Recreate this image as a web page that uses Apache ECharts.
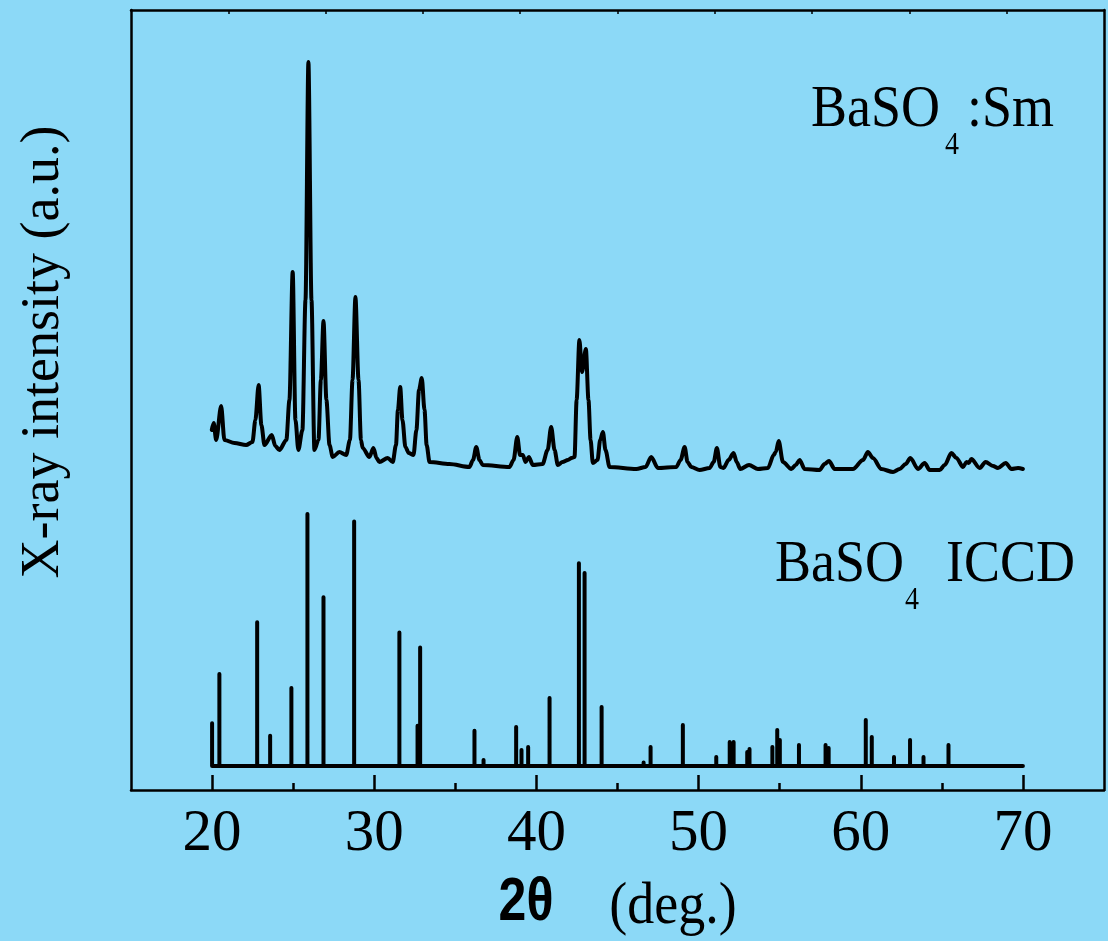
<!DOCTYPE html>
<html>
<head>
<meta charset="utf-8">
<title>BaSO4:Sm XRD</title>
<script src="https://cdn.jsdelivr.net/npm/echarts@6/dist/echarts.min.js"></script>
<style>
    html, body { margin: 0; padding: 0; background: #8cd9f7; }
    #chart { width: 1108px; height: 941px; }
</style>
</head>
<body>
<div id="chart"></div>
<script>
// measured pattern of BaSO4:Sm, [2theta (deg), intensity (a.u.)]
var smPattern = [
    [19.98, 360], [20.10, 367], [20.25, 350], [20.56, 384], [20.76, 350], [21.38, 347],
    [22.10, 345], [22.49, 348], [22.67, 370], [22.87, 405], [23.04, 365], [23.23, 345],
    [23.68, 355], [23.90, 344], [24.15, 340], [24.58, 350], [24.77, 390], [24.97, 518],
    [25.14, 370], [25.32, 340], [25.57, 360], [25.76, 490], [25.94, 728], [26.13, 490],
    [26.31, 340], [26.56, 350], [26.71, 410], [26.87, 469], [27.05, 390], [27.24, 345],
    [27.44, 333], [27.85, 338], [28.27, 335], [28.50, 350], [28.66, 410], [28.84, 493],
    [29.03, 410], [29.18, 350], [29.29, 342], [29.70, 333], [29.95, 342], [30.14, 332],
    [30.32, 328], [30.83, 332], [31.14, 328], [31.34, 345], [31.46, 380], [31.60, 403],
    [31.74, 370], [31.92, 343], [32.13, 337], [32.42, 335], [32.60, 360], [32.76, 400],
    [32.93, 412], [33.10, 380], [33.23, 345], [33.41, 328], [34.64, 326], [35.87, 323],
    [36.09, 330], [36.29, 343], [36.49, 330], [36.69, 325], [38.34, 323], [38.59, 330],
    [38.82, 353], [38.99, 335], [39.16, 335], [39.33, 328], [39.53, 333], [39.78, 325],
    [40.38, 326], [40.69, 340], [40.91, 363], [41.12, 340], [41.32, 325], [41.61, 328],
    [41.94, 330], [42.17, 332], [42.35, 333], [42.48, 390], [42.65, 450], [42.81, 418],
    [43.05, 441], [43.21, 390], [43.34, 350], [43.48, 327], [43.77, 330], [43.93, 350],
    [44.10, 358], [44.26, 340], [44.51, 323], [46.16, 321], [46.73, 323], [47.08, 333],
    [47.49, 322], [48.62, 323], [48.89, 330], [49.14, 343], [49.32, 328], [49.55, 323],
    [50.06, 320], [50.68, 322], [50.93, 328], [51.13, 342], [51.34, 323], [51.54, 322],
    [51.85, 330], [52.16, 337], [52.35, 328], [52.57, 321], [53.11, 325], [53.66, 321],
    [54.28, 322], [54.63, 335], [54.76, 338], [54.94, 349], [55.20, 328], [55.72, 321],
    [55.99, 325], [56.23, 330], [56.54, 321], [57.46, 320], [57.77, 326], [58.04, 329],
    [58.39, 321], [59.52, 321], [60.14, 330], [60.44, 338], [60.75, 332], [61.27, 321],
    [61.99, 318], [62.40, 321], [62.77, 326], [63.06, 332], [63.53, 321], [63.94, 327],
    [64.25, 320], [64.87, 320], [65.18, 325], [65.59, 337], [65.90, 332], [66.31, 323],
    [66.52, 328], [66.66, 327], [66.82, 331], [67.33, 322], [67.70, 328], [68.16, 324],
    [68.46, 322], [68.94, 327], [69.29, 321], [69.70, 322], [70.00, 321]
];

// ICCD reference lines of BaSO4
var iccdTheta = [
    20.00, 20.45, 22.78, 23.58, 24.89, 25.88, 26.87, 28.76, 31.55, 32.67,
    32.83, 36.18, 36.74, 38.75, 39.08, 39.49, 40.81, 42.62, 42.97, 44.02,
    46.61, 47.04, 49.03, 51.09, 51.92, 52.16, 53.00, 53.14, 54.55, 54.85,
    55.01, 56.19, 57.83, 58.02, 60.31, 60.68, 62.05, 63.04, 63.87, 65.41
];
var iccdRel = [
    17, 36.5, 57, 12, 31, 100, 67, 97, 53, 16,
    47, 14, 2.4, 15.5, 6.3, 7.5, 27, 80.5, 76.6, 23.4,
    1.4, 7.5, 16.3, 3.6, 9.5, 9.5, 5.6, 6.7, 7.5, 14.3,
    10.3, 8.3, 8.3, 7.1, 18.3, 11.5, 3.6, 10.3, 3.6, 8.3
];

var majorTicks = [20, 30, 40, 50, 60, 70];
var minorTicks = [25, 35, 45, 55, 65];
var topTicks = [21, 27, 33, 39, 45, 51, 57, 63, 69];

var serif = '"Liberation Serif", "Times New Roman", serif';

// stick pattern drawn as one polyline along its baseline
var iccdBase = 24, iccdScale = 2.52;
var iccdData = [];
iccdTheta.forEach(function (t, i) {
    iccdData.push([t, iccdBase], [t, iccdBase + iccdRel[i] * iccdScale], [t, iccdBase]);
});
iccdData.push([70, iccdBase]);

var black = { color: '#000', width: 2.5 };

function txt(text, x, y, font, opts) {
    opts = opts || {};
    return {
        type: 'text',
        x: x,
        y: y,
        rotation: opts.rotation || 0,
        scaleY: opts.scaleY || 1,
        style: {
            text: text,
            font: font,
            fill: '#000',
            textAlign: opts.align || 'left',
            align: opts.align || 'left',
            textVerticalAlign: 'middle',
            verticalAlign: 'middle'
        }
    };
}

var chart = echarts.init(document.getElementById('chart'));

var option = {
    backgroundColor: '#8cd9f7',
    animation: false,
    grid: { left: 131, right: 4, top: 10, bottom: 151 },
    xAxis: [{
        type: 'value',
        position: 'bottom',
        min: 15,
        max: 75,
        axisLine: { onZero: false, lineStyle: black },
        axisTick: { inside: true, length: 15, customValues: majorTicks, lineStyle: black },
        axisLabel: { customValues: majorTicks, margin: 15, color: '#000', fontFamily: serif, fontSize: 59 },
        splitLine: { show: false }
    }, {
        type: 'value',
        position: 'bottom',
        min: 15,
        max: 75,
        axisLine: { show: false, onZero: false },
        axisTick: { inside: true, length: 7, customValues: minorTicks, lineStyle: black },
        axisLabel: { show: false },
        splitLine: { show: false }
    }, {
        type: 'value',
        position: 'top',
        min: 15,
        max: 75,
        axisLine: { onZero: false, lineStyle: black },
        axisTick: { inside: true, length: 4, customValues: topTicks, lineStyle: { color: '#000', width: 1.5 } },
        axisLabel: { show: false },
        splitLine: { show: false }
    }],
    yAxis: [{
        type: 'value',
        position: 'left',
        min: 0,
        max: 780,
        axisLine: { show: true, onZero: false, lineStyle: black },
        axisTick: { show: false },
        axisLabel: { show: false },
        splitLine: { show: false }
    }, {
        type: 'value',
        position: 'right',
        min: 0,
        max: 780,
        axisLine: { show: true, onZero: false, lineStyle: black },
        axisTick: { show: false },
        axisLabel: { show: false },
        splitLine: { show: false }
    }],
    series: [{
        name: 'BaSO4:Sm',
        type: 'line',
        data: smPattern,
        symbol: 'none',
        smooth: 0.3,
        smoothMonotone: 'x',
        lineStyle: { color: '#000', width: 4, join: 'round', cap: 'round' },
        z: 3
    }, {
        name: 'BaSO4 ICCD',
        type: 'line',
        data: iccdData,
        symbol: 'none',
        lineStyle: { color: '#000', width: 4, join: 'round', cap: 'round' },
        z: 3
    }],
    graphic: [
        txt('BaSO', 811, 110, '54px ' + serif, { scaleY: 1.11 }),
        txt('4', 945, 146, '28px ' + serif, { scaleY: 1.11 }),
        txt(':Sm', 967, 110, '54px ' + serif, { scaleY: 1.11 }),
        txt('BaSO', 775, 565, '54px ' + serif, { scaleY: 1.11 }),
        txt('4', 905, 601, '28px ' + serif, { scaleY: 1.11 }),
        txt('ICCD', 946, 565, '54px ' + serif, { scaleY: 1.11 }),
        txt('X-ray intensity (a.u.)', 44, 352, '54px ' + serif, { rotation: Math.PI / 2, align: 'center' }),
        txt('2\u03b8', 526, 903, 'bold 50px "Liberation Sans", Arial, sans-serif', { align: 'center', scaleY: 1.22 }),
        txt('(deg.)', 673, 907, '54px ' + serif, { align: 'center', scaleY: 1.11 })
    ]
};

chart.setOption(option);
</script>
</body>
</html>
